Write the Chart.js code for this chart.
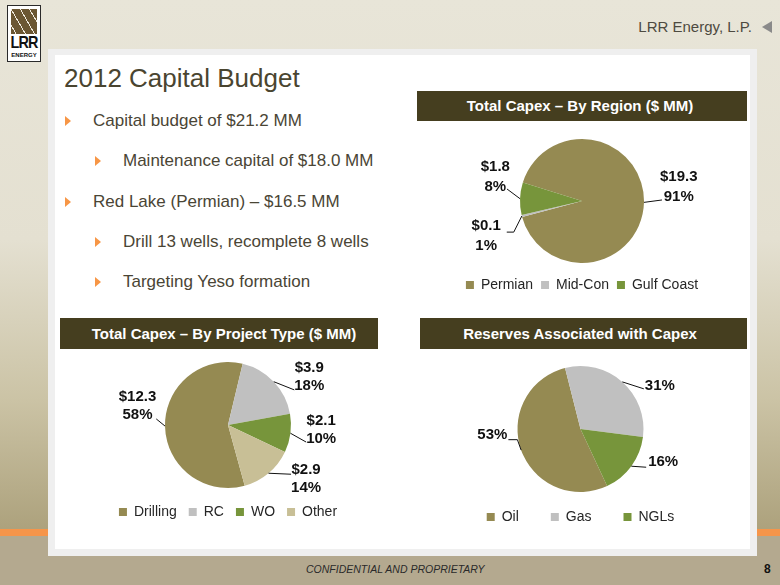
<!DOCTYPE html>
<html><head><meta charset="utf-8">
<script src="https://cdn.jsdelivr.net/npm/chart.js@4.4.1/dist/chart.umd.min.js"></script>
<style>
html,body{margin:0;padding:0;}
body{width:780px;height:585px;position:relative;overflow:hidden;font-family:"Liberation Sans",Arial,sans-serif;
 background:linear-gradient(to bottom,#e8e5d8 0px,#e4e0d1 240px,#cbc3a5 400px,#ada27d 528px);}
.abs{position:absolute;}
#stripe{left:0;top:529px;width:780px;height:7px;background:#f6954a;}
#foot{left:0;top:536px;width:780px;height:49px;background:#b4a98f;}
#panel{left:48px;top:49px;width:709px;height:507px;background:#efefef;}
#inner{left:55px;top:55px;width:695px;height:494px;background:#fff;}
#logo{left:7px;top:5px;width:32px;height:55px;background:#fff;border:1px solid #2a2a2a;}
#logoart{left:3px;top:3px;width:26px;height:25px;background:repeating-linear-gradient(60deg,#6b5632 0 4px,#efe9dc 4px 5px,#6b5632 5px 8px);}
#logoLRR{left:0;top:27px;width:32px;text-align:center;font-weight:bold;font-size:17px;color:#111;letter-spacing:-1px;transform:scaleX(0.85);}
#logoEN{left:0;top:46px;width:32px;text-align:center;font-weight:bold;font-size:6px;color:#111;}
#company{left:600px;top:17px;width:152px;text-align:right;font-size:15px;color:#4d4a40;line-height:20px;}
#tri{left:762px;top:21px;width:0;height:0;border-top:6px solid transparent;border-bottom:6px solid transparent;border-right:10px solid #8a8a8a;}
#title{left:64px;top:62px;font-size:26px;color:#4a4530;line-height:32px;white-space:nowrap;}
.bl{position:absolute;font-size:17px;color:#4a4535;line-height:20px;white-space:nowrap;}
.bt{position:absolute;width:0;height:0;border-top:5px solid transparent;border-bottom:5px solid transparent;border-left:6px solid #f79646;}
.bar{position:absolute;background:#453e1f;color:#fff;font-weight:bold;font-size:15px;text-align:center;box-sizing:border-box;}
#conf{left:306px;top:562px;font-size:10.5px;font-style:italic;color:#2a2a2a;white-space:nowrap;line-height:14px;}
#pg{left:764px;top:562px;font-size:12px;font-weight:bold;color:#111;line-height:14px;}
canvas{position:absolute;}
</style></head>
<body>
<div class="abs" id="stripe"></div>
<div class="abs" id="foot"></div>
<div class="abs" id="panel"></div>
<div class="abs" id="inner"></div>
<div class="abs" id="logo"><div class="abs" id="logoart"></div><div class="abs" id="logoLRR">LRR</div><div class="abs" id="logoEN">ENERGY</div></div>
<div class="abs" id="company">LRR Energy, L.P.</div>
<div class="abs" id="tri"></div>
<div class="abs" id="title">2012 Capital Budget</div>

<div class="bt" style="left:65px;top:116px"></div><div class="bl" style="left:93px;top:111px">Capital budget of $21.2 MM</div>
<div class="bt" style="left:95px;top:156px"></div><div class="bl" style="left:123px;top:151px">Maintenance capital of $18.0 MM</div>
<div class="bt" style="left:65px;top:197px"></div><div class="bl" style="left:93px;top:192px">Red Lake (Permian) – $16.5 MM</div>
<div class="bt" style="left:95px;top:237px"></div><div class="bl" style="left:123px;top:232px">Drill 13 wells, recomplete 8 wells</div>
<div class="bt" style="left:95px;top:277px"></div><div class="bl" style="left:123px;top:272px">Targeting Yeso formation</div>

<div class="bar" style="left:417px;top:91px;width:330px;height:30px;line-height:30px;padding-right:4px">Total Capex – By Region ($ MM)</div>
<div class="bar" style="left:60px;top:318px;width:318px;height:31px;line-height:31px;padding-left:10px">Total Capex – By Project Type ($ MM)</div>
<div class="bar" style="left:420px;top:318px;width:327px;height:31px;line-height:31px;padding-right:7px">Reserves Associated with Capex</div>

<canvas id="c1" style="left:417px;top:132px" width="330" height="170"></canvas>
<canvas id="c2" style="left:79px;top:357px" width="298" height="172"></canvas>
<canvas id="c3" style="left:417px;top:350px" width="327" height="184"></canvas>

<div class="abs" id="conf">CONFIDENTIAL AND PROPRIETARY</div>
<div class="abs" id="pg">8</div>

<script>
// ---- data ----
const regionLabels = ['Permian', 'Mid-Con', 'Gulf Coast'];
const regionValues = [19.3, 0.1, 1.8];
const regionPct = [91, 1, 8];

const projectLabels = ['Drilling', 'RC', 'WO', 'Other'];
const projectValues = [12.3, 3.9, 2.1, 2.9];
const projectPct = [58, 18, 10, 14];

const reserveLabels = ['Oil', 'Gas', 'NGLs'];
const reservePct = [53, 31, 16];

const OLIVE = '#958a52', GRAY = '#c0c0c0', GREEN = '#77953b', TAN = '#c8bf96';

const sliceLabels = {
  id: 'sliceLabels',
  afterDatasetsDraw(chart, args, opts) {
    const meta = chart.getDatasetMeta(0);
    const ctx = chart.ctx;
    ctx.save();
    ctx.font = opts.font;
    ctx.fillStyle = opts.color;
    ctx.strokeStyle = opts.color;
    ctx.lineWidth = 1;
    ctx.textBaseline = 'middle';
    ctx.textAlign = 'center';
    meta.data.forEach((arc, i) => {
      const p = opts.place[i] || {};
      const {x, y, startAngle, endAngle, outerRadius} = arc.getProps(['x','y','startAngle','endAngle','outerRadius'], true);
      const r = outerRadius;
      const mid = (startAngle + endAngle) / 2;
      const la = mid + (p.shift || 0) * Math.PI / 180;
      const ld = r + (p.ext || 0);
      const ex = x + r * Math.cos(mid), ey = y + r * Math.sin(mid);
      const lx = x + ld * Math.cos(la), ly = y + ld * Math.sin(la);
      const side = Math.cos(la) >= 0 ? 1 : -1;
      const tx = lx + side * (p.tail || 0);
      ctx.beginPath(); ctx.moveTo(ex, ey); ctx.lineTo(lx, ly);
      if (p.tail) ctx.lineTo(tx, ly);
      ctx.stroke();
      const lines = opts.lines(i);
      const w = Math.max(...lines.map(s => ctx.measureText(s).width));
      const bx = side > 0 ? tx + (p.gap || 0) + w / 2 : tx - (p.gap || 0) - w / 2;
      const cy = ly + (p.dy || 0);
      const lh = opts.lineHeight;
      lines.forEach((s, k) => ctx.fillText(s, bx, cy + (k - (lines.length - 1) / 2) * lh));
    });
    ctx.restore();
  }
};

function makePie(id, labels, values, colors, cfg) {
  return new Chart(document.getElementById(id), {
    type: 'pie',
    data: { labels, datasets: [{ data: values, backgroundColor: colors, borderWidth: 0, clip: false }] },
    options: {
      responsive: false, animation: false,
      rotation: cfg.rotation, radius: cfg.radius,
      layout: { padding: cfg.padding || 0 },
      plugins: {
        tooltip: { enabled: false },
        legend: {
          position: 'bottom',
          labels: { boxWidth: 8, boxHeight: 8, padding: cfg.legendPad, color: '#262626',
                    font: { family: '"Liberation Sans", Arial, sans-serif', size: 14 } }
        },
        sliceLabels: {
          font: 'bold 15px "Liberation Sans", Arial, sans-serif', color: '#111',
          lineHeight: cfg.lineHeight, lines: cfg.lines, place: cfg.place
        }
      }
    },
    plugins: [sliceLabels]
  });
}

makePie('c1', regionLabels, regionValues, [OLIVE, GRAY, GREEN], {
  rotation: -72.6, radius: 62, legendPad: 8, lineHeight: 20,
  lines: i => ['$' + regionValues[i].toFixed(1), regionPct[i] + '%'],
  place: [
    { shift: -2, ext: 18, gap: -2, dy: -13 },
    { shift: -10.5, ext: 13, tail: 7, gap: 6, dy: 4 },
    { shift: 7, ext: 14, gap: -3, dy: -12 }
  ]
});

makePie('c2', projectLabels, projectValues, [OLIVE, GRAY, GREEN, TAN], {
  rotation: 164.6, radius: 63, legendPad: 12, lineHeight: 18,
  lines: i => ['$' + projectValues[i].toFixed(1), projectPct[i] + '%'],
  place: [
    { shift: 5.8, ext: 9, gap: 0, dy: -13 },
    { shift: 15.5, ext: 12, gap: 0, dy: -13 },
    { shift: 4.8, ext: 17, gap: 0, dy: -12.5 },
    { shift: -12, ext: 17, gap: 0, dy: 5 }
  ]
});

makePie('c3', reserveLabels, reservePct, [OLIVE, GRAY, GREEN], {
  rotation: 155, radius: 63, legendPad: 32, lineHeight: 18,
  padding: { top: 30 },
  lines: i => [reservePct[i] + '%'],
  place: [
    { shift: 10, ext: 1, tail: 9, gap: 1, dy: -5 },
    { shift: 16, ext: 12, gap: 1, dy: -3 },
    { shift: -6, ext: 13, gap: 2, dy: -5 }
  ]
});
</script>
</body></html>
